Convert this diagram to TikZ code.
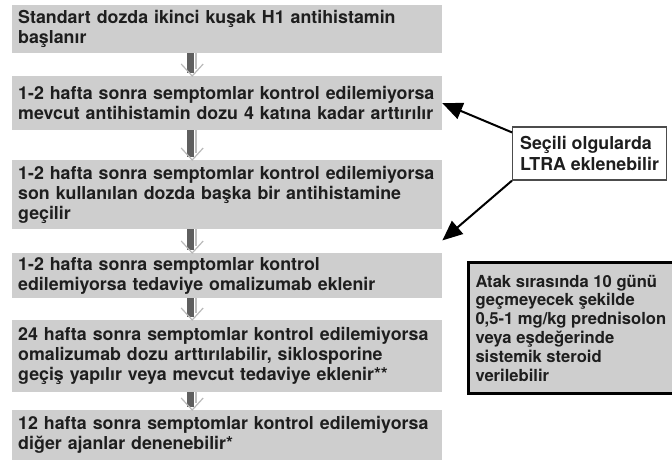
\documentclass[tikz,border=0pt]{standalone}
\usepackage{fontspec}
\setmainfont{TeX Gyre Heros}
\usetikzlibrary{arrows.meta}
\hyphenpenalty=10000

\definecolor{boxgray}{RGB}{206,206,206}
\definecolor{shaftgray}{RGB}{95,95,95}
\definecolor{textgray}{RGB}{30,30,30}

\tikzset{
  stepbox/.style={fill=boxgray, anchor=north west, inner xsep=6pt, inner ysep=0pt,
    text width=418pt, align=left, text=textgray,
    font=\fontsize{17.8}{20}\selectfont\bfseries},
  shaft/.style={shaftgray, line width=7pt},
  shaftline/.style={gray!50, line width=1.5pt},
  chev/.style={gray!55, line width=1.2pt},
  ltrabox/.style={draw=gray!60!black, line width=1.2pt, fill=white, align=left,
    anchor=west, minimum width=154pt, minimum height=53pt, inner xsep=5pt, text=textgray,
    font=\fontsize{17.8}{21}\selectfont\bfseries},
  notebox/.style={draw=black, line width=3pt, fill=boxgray, align=left, anchor=west,
    minimum width=203pt, minimum height=130pt, inner xsep=7pt, text=textgray,
    font=\fontsize{16.6}{18.8}\selectfont\bfseries},
  pointer/.style={line width=2pt, -{Triangle[length=20pt,width=17pt]}}
}

\begin{document}
\begin{tikzpicture}[x=1pt,y=-1pt]
    \useasboundingbox (0,0) rectangle (672,462);

    % adimlar
    \node[stepbox, minimum height=48pt] (b1) at (12,5)
      {Standart dozda ikinci kuşak H1 antihistamin\\ başlanır};
    \node[stepbox, minimum height=54pt] (b2) at (12,76)
      {1-2 hafta sonra semptomlar kontrol edilemiyorsa\\ mevcut antihistamin dozu 4 katına kadar arttırılır};
    \node[stepbox, minimum height=69pt] (b3) at (12,160)
      {1-2 hafta sonra semptomlar kontrol edilemiyorsa\\ son kullanılan dozda başka bir antihistamine\\ geçilir};
    \node[stepbox, minimum height=45pt] (b4) at (12,253)
      {1-2 hafta sonra semptomlar kontrol\\ edilemiyorsa tedaviye omalizumab eklenir};
    \node[stepbox, minimum height=72pt] (b5) at (12,320)
      {24 hafta sonra semptomlar kontrol edilemiyorsa\\ omalizumab dozu arttırılabilir, siklosporine\\ geçiş yapılır veya mevcut tedaviye eklenir**};
    \node[stepbox, minimum height=50pt] (b6) at (12,410)
      {12 hafta sonra semptomlar kontrol edilemiyorsa\\ diğer ajanlar denenebilir*};

    % oklar
    \foreach \a/\b in {b1/b2,b2/b3,b3/b4,b4/b5,b5/b6}{
      \draw[shaft] ([xshift=-37pt]\a.south) -- ([xshift=-37pt,yshift=3pt]\b.north);
      \draw[shaftline] ([xshift=-31pt]\a.south) -- ([xshift=-31pt,yshift=7pt]\b.north);
      \draw[chev] ([xshift=-46pt,yshift=12pt]\b.north) -- ([xshift=-35pt]\b.north)
        -- ([xshift=-24pt,yshift=12pt]\b.north);
    }

    % LTRA
    \node[ltrabox] (ltra) at (512,153.5) {Seçili olgularda\\ LTRA eklenebilir};
    \coordinate (t3) at ([yshift=-11pt]b3.south east);
    \draw[pointer] ([yshift=-6pt]ltra.north west) -- (b2.east);
    \draw[pointer] (ltra.south west) -- (t3);

    % atak
    \node[notebox] (atak) at (467,328)
      {Atak sırasında 10 günü\\ geçmeyecek şekilde\\ 0,5-1 mg/kg prednisolon\\ veya eşdeğerinde\\ sistemik steroid\\ verilebilir};
\end{tikzpicture}
\end{document}
